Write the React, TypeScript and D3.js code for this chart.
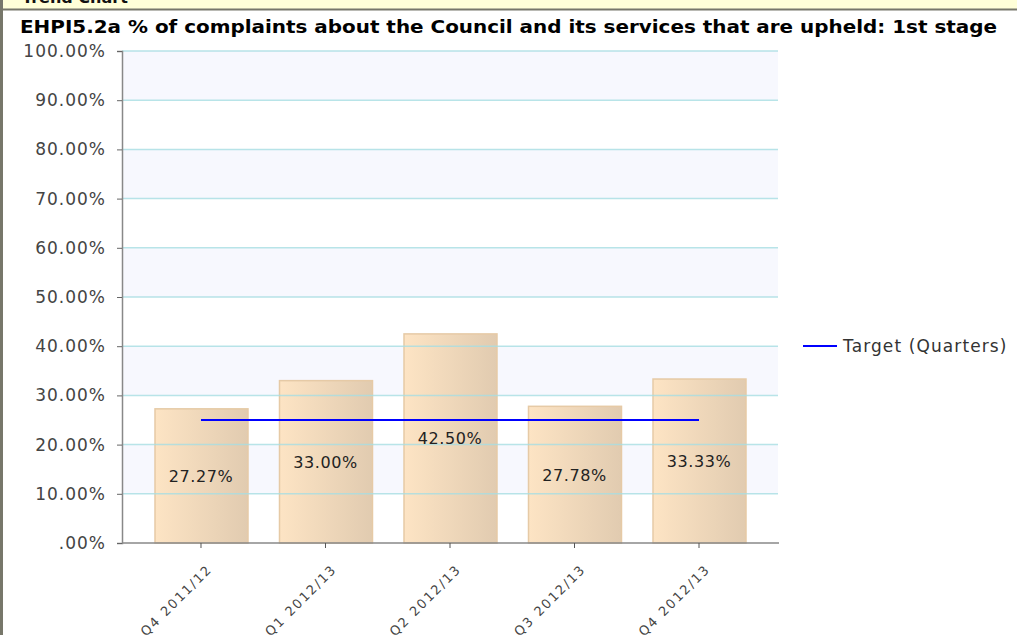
import React, { useRef, useEffect } from 'react';
import * as d3 from 'd3';

const categories = ['Q4 2011/12', 'Q1 2012/13', 'Q2 2012/13', 'Q3 2012/13', 'Q4 2012/13'];
const actualValues = [27.27, 33.0, 42.5, 27.78, 33.33];
const targetValues = [25, 25, 25, 25, 25];
const yTicks = [0, 10, 20, 30, 40, 50, 60, 70, 80, 90, 100];

const title = 'EHPI5.2a % of complaints about the Council and its services that are upheld: 1st stage';
const legendLabel = 'Target (Quarters)';

const W = 1017;
const H = 635;
const font = '"DejaVu Sans", Verdana, sans-serif';

const fmtTick = (v: number) => (v === 0 ? '.00%' : v.toFixed(2) + '%');

const App: React.FC = () => {
  const ref = useRef<SVGSVGElement>(null);

  useEffect(() => {
    const svg = d3.select(ref.current!);
    svg.selectAll('*').remove();

    const left = 122, right = 778, top = 51, bottom = 543;

    const x = d3.scaleBand<string>()
      .domain(categories)
      .range([left, right])
      .paddingInner(0.253)
      .paddingOuter(0.261);

    const y = d3.scaleLinear().domain([0, 100]).range([bottom, top]);

    const defs = svg.append('defs');
    const grad = defs.append('linearGradient')
      .attr('id', 'barGrad')
      .attr('x1', '0%').attr('x2', '100%')
      .attr('y1', '0%').attr('y2', '0%');
    grad.append('stop').attr('offset', '0%').attr('stop-color', '#fde4c4');
    grad.append('stop').attr('offset', '100%').attr('stop-color', '#e1cbb0');

    // page frame
    svg.append('rect').attr('x', 0).attr('y', 0).attr('width', W).attr('height', 9)
      .attr('fill', '#ffffd8');
    svg.append('line').attr('x1', 0).attr('x2', W).attr('y1', 9.5).attr('y2', 9.5)
      .attr('stroke', '#77776a').attr('stroke-width', 2);
    svg.append('line').attr('x1', 1.5).attr('x2', 1.5).attr('y1', 0).attr('y2', H)
      .attr('stroke', '#77776a').attr('stroke-width', 3);
    svg.append('text').attr('x', 22).attr('y', 3)
      .attr('font-family', font).attr('font-weight', 'bold').attr('font-size', 16)
      .attr('fill', '#111').text('Trend Chart');

    svg.append('text').attr('x', 20).attr('y', 33)
      .attr('font-family', font).attr('font-weight', 'bold').attr('font-size', 17)
      .attr('textLength', 977).attr('lengthAdjust', 'spacingAndGlyphs')
      .attr('fill', '#000').text(title);

    // alternating bands
    const bandTicks = yTicks.filter(t => t % 20 === 10);
    svg.append('g').selectAll('rect').data(bandTicks).enter().append('rect')
      .attr('x', left).attr('width', right - left)
      .attr('y', d => y(d + 10)).attr('height', d => y(d) - y(d + 10))
      .attr('fill', '#f7f8fe');

    // bars
    svg.append('g').selectAll('rect').data(actualValues).enter().append('rect')
      .attr('x', (_, i) => x(categories[i])! + 0.5)
      .attr('width', x.bandwidth())
      .attr('y', d => y(d))
      .attr('height', d => y(0) - y(d))
      .attr('fill', 'url(#barGrad)')
      .attr('stroke', '#e6caa6')
      .attr('stroke-width', 1.5);

    // gridlines on top of the bars
    svg.append('g').selectAll('line').data(yTicks.filter(t => t > 0)).enter().append('line')
      .attr('x1', left).attr('x2', right)
      .attr('y1', d => y(d)).attr('y2', d => y(d))
      .attr('stroke', '#a6dde2').attr('stroke-opacity', 0.8).attr('stroke-width', 1.5);

    // bar labels
    svg.append('g').selectAll('text').data(actualValues).enter().append('text')
      .attr('x', (_, i) => x(categories[i])! + x.bandwidth() / 2)
      .attr('y', d => (y(d) + y(0)) / 2 + 6)
      .attr('text-anchor', 'middle')
      .attr('font-family', font).attr('font-size', 16)
      .attr('letter-spacing', 0.6)
      .attr('fill', '#222')
      .text(d => d.toFixed(2) + '%');

    // target line
    const line = d3.line<number>()
      .x((_, i) => x(categories[i])! + x.bandwidth() / 2)
      .y(d => y(d));
    svg.append('path').datum(targetValues)
      .attr('d', line)
      .attr('fill', 'none')
      .attr('stroke', '#0000ff')
      .attr('stroke-width', 2.2);

    // y axis
    const yAxis = svg.append('g')
      .attr('transform', `translate(${left},0)`)
      .call(d3.axisLeft(y).tickValues(yTicks).tickSize(5).tickPadding(11).tickFormat(d => fmtTick(+d)));
    yAxis.select('.domain').attr('stroke', '#888').attr('stroke-width', 1.5);
    yAxis.selectAll('.tick line').attr('stroke', '#666');
    yAxis.selectAll('.tick text')
      .attr('font-family', font).attr('font-size', 17)
      .attr('letter-spacing', 1)
      .attr('fill', '#444');

    // x axis
    const xAxis = svg.append('g')
      .attr('transform', `translate(0,${bottom})`)
      .call(d3.axisBottom(x).tickSize(5).tickSizeOuter(0));
    xAxis.select('.domain').attr('stroke', '#888').attr('stroke-width', 1.5)
      .attr('d', `M${left},0H${right + 1}`);
    xAxis.selectAll('.tick line').attr('stroke', '#555');
    xAxis.selectAll('.tick text')
      .attr('font-family', font).attr('font-size', 13)
      .attr('letter-spacing', 1.8)
      .attr('fill', '#444')
      .attr('text-anchor', 'end')
      .attr('transform', 'translate(12,27) rotate(-45)')
      .attr('x', 0).attr('y', 0).attr('dy', 0);

    // legend
    svg.append('line').attr('x1', 803).attr('x2', 837).attr('y1', 346).attr('y2', 346)
      .attr('stroke', '#0000ff').attr('stroke-width', 2);
    svg.append('text').attr('x', 843).attr('y', 352)
      .attr('font-family', font).attr('font-size', 17)
      .attr('letter-spacing', 1.1)
      .attr('fill', '#333').text(legendLabel);
  }, []);

  return (
    <svg ref={ref} width={W} height={H}
      style={{ position: 'absolute', left: 0, top: 0, background: '#fff' }} />
  );
};

export default App;
